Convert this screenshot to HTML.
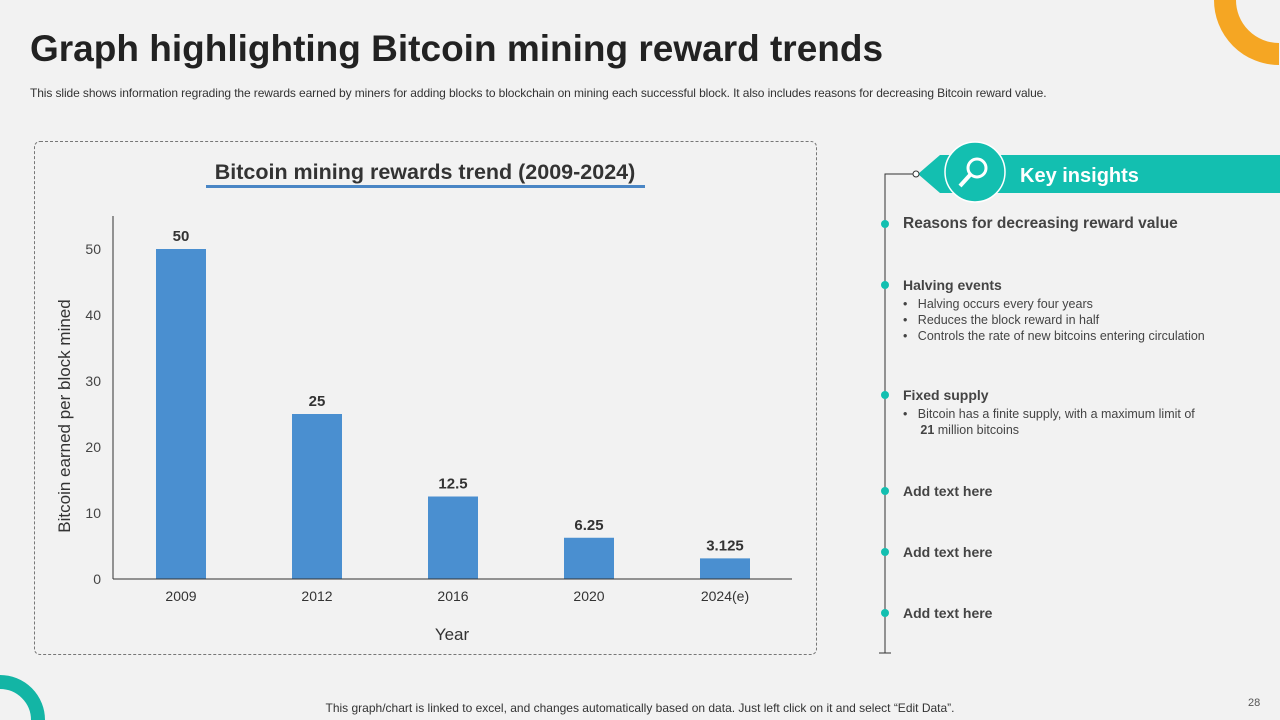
<!DOCTYPE html>
<html style="overflow:hidden;height:720px;"><head><meta charset="utf-8"><style>
html,body{margin:0;width:1280px;height:720px;overflow:hidden;}
body{background:#f2f2f2;position:relative;font-family:"Liberation Sans",sans-serif;}
.abs{position:absolute;}
</style></head><body>
<svg class="abs" style="left:0;top:0" width="1280" height="720">
<path d="M1225,0 A54,54 0 0 0 1279,54" fill="none" stroke="#f5a623" stroke-width="22"/>
<path d="M-38,720 A38,38 0 0 1 38,720" fill="none" stroke="#13b5a5" stroke-width="14"/>
</svg>
<div class="abs" style="left:30px;top:28px;font-size:37px;font-weight:bold;color:#222;">Graph highlighting Bitcoin mining reward trends</div>
<div class="abs" style="left:30px;top:86px;font-size:12px;color:#333;letter-spacing:-0.1px;">This slide shows information regrading the rewards earned by miners for adding blocks to blockchain on mining each successful block. It also includes reasons for decreasing Bitcoin reward value.</div>
<div class="abs" style="left:34px;top:141px;width:781px;height:512px;border:1px dashed #777;border-radius:6px;"></div>
<svg class="abs" style="left:0;top:0" width="1280" height="720" id="chart">
<text x="425" y="179" text-anchor="middle" font-size="21.5" font-weight="bold" fill="#333">Bitcoin mining rewards trend (2009-2024)</text>
<rect x="206" y="185" width="439" height="3" fill="#4a86c5"/>
<text transform="translate(70,416) rotate(-90)" text-anchor="middle" font-size="17" fill="#333">Bitcoin earned per block mined</text>
<text x="452" y="640" text-anchor="middle" font-size="17" fill="#333">Year</text>
</svg>
<script>
const categories=["2009","2012","2016","2020","2024(e)"];
const values=[50,25,12.5,6.25,3.125];
const valueLabels=["50","25","12.5","6.25","3.125"];
const yTicks=[0,10,20,30,40,50];
const svg=document.getElementById('chart');const NS='http://www.w3.org/2000/svg';
const y=v=>579-v*6.6;const band=136;const x0=113;const x=i=>x0+band*i+band/2;
function mk(t,a){const e=document.createElementNS(NS,t);for(const k in a)e.setAttribute(k,a[k]);svg.appendChild(e);return e;}
yTicks.forEach(t=>{const e=mk('text',{x:101,y:y(t)+5,'text-anchor':'end','font-size':14,fill:'#444'});e.textContent=t;

});
categories.forEach((c,i)=>{
const r=mk('rect',{x:x(i)-25,y:y(values[i]),width:50,height:579-y(values[i]),fill:'#4a8fd0'});


const l=mk('text',{x:x(i),y:y(values[i])-8,'text-anchor':'middle','font-size':15,'font-weight':'bold',fill:'#333'});l.textContent=valueLabels[i];


const t=mk('text',{x:x(i),y:601,'text-anchor':'middle','font-size':14,fill:'#333'});t.textContent=c;

});
const ya=mk('line',{x1:113,y1:216,x2:113,y2:579,stroke:'#333','stroke-width':1});


const xa=mk('line',{x1:113,y1:579,x2:792,y2:579,stroke:'#333','stroke-width':1});


</script>
<svg class="abs" style="left:0;top:0" width="1280" height="720">
<polyline points="916,174 885,174 885,653 891,653 879,653" fill="none" stroke="#333" stroke-width="1"/>
<polygon points="918,174 940,155 1280,155 1280,193 940,193" fill="#13bfb0"/>
<circle cx="916" cy="174" r="3" fill="#fff" stroke="#333"/>
<circle cx="975" cy="172" r="30" fill="#13bfb0" stroke="#fff" stroke-width="1.5"/>
<circle cx="977" cy="168" r="9" fill="none" stroke="#fff" stroke-width="3"/>
<line x1="970" y1="175" x2="960" y2="186" stroke="#fff" stroke-width="4"/>
<text x="1020" y="182" font-size="20" font-weight="bold" fill="#fff">Key insights</text>
<g fill="#13bfb0"><circle cx="885" cy="224" r="4"/><circle cx="885" cy="285" r="4"/><circle cx="885" cy="395" r="4"/><circle cx="885" cy="491" r="4"/><circle cx="885" cy="552" r="4"/><circle cx="885" cy="613" r="4"/></g>
</svg>
<div class="abs" style="left:903px;top:215px;font-size:15.5px;font-weight:bold;color:#444;">Reasons for decreasing reward value</div>
<div class="abs" style="left:903px;top:277px;font-size:14px;font-weight:bold;color:#444;">Halving events</div>
<div class="abs" style="left:903px;top:296px;font-size:12.5px;color:#444;line-height:16px;">•&nbsp;&nbsp;&nbsp;Halving occurs every four years<br>•&nbsp;&nbsp;&nbsp;Reduces the block reward in half<br>•&nbsp;&nbsp;&nbsp;Controls the rate of new bitcoins entering circulation</div>
<div class="abs" style="left:903px;top:387px;font-size:14px;font-weight:bold;color:#444;">Fixed supply</div>
<div class="abs" style="left:903px;top:406px;font-size:12.5px;color:#444;line-height:16px;">•&nbsp;&nbsp;&nbsp;Bitcoin has a finite supply, with a maximum limit of<br>&nbsp;&nbsp;&nbsp;&nbsp;&nbsp;<b>21</b> million bitcoins</div>
<div class="abs" style="left:903px;top:483px;font-size:14px;font-weight:bold;color:#444;">Add text here</div>
<div class="abs" style="left:903px;top:544px;font-size:14px;font-weight:bold;color:#444;">Add text here</div>
<div class="abs" style="left:903px;top:605px;font-size:14px;font-weight:bold;color:#444;">Add text here</div>
<div class="abs" style="left:0;width:1280px;text-align:center;top:701px;font-size:12px;line-height:14px;color:#333;">This graph/chart is linked to excel, and changes automatically based on data. Just left click on it and select “Edit Data”.</div>
<div class="abs" style="left:1248px;top:697px;font-size:11px;line-height:13px;color:#555;">28</div>
</body></html>
